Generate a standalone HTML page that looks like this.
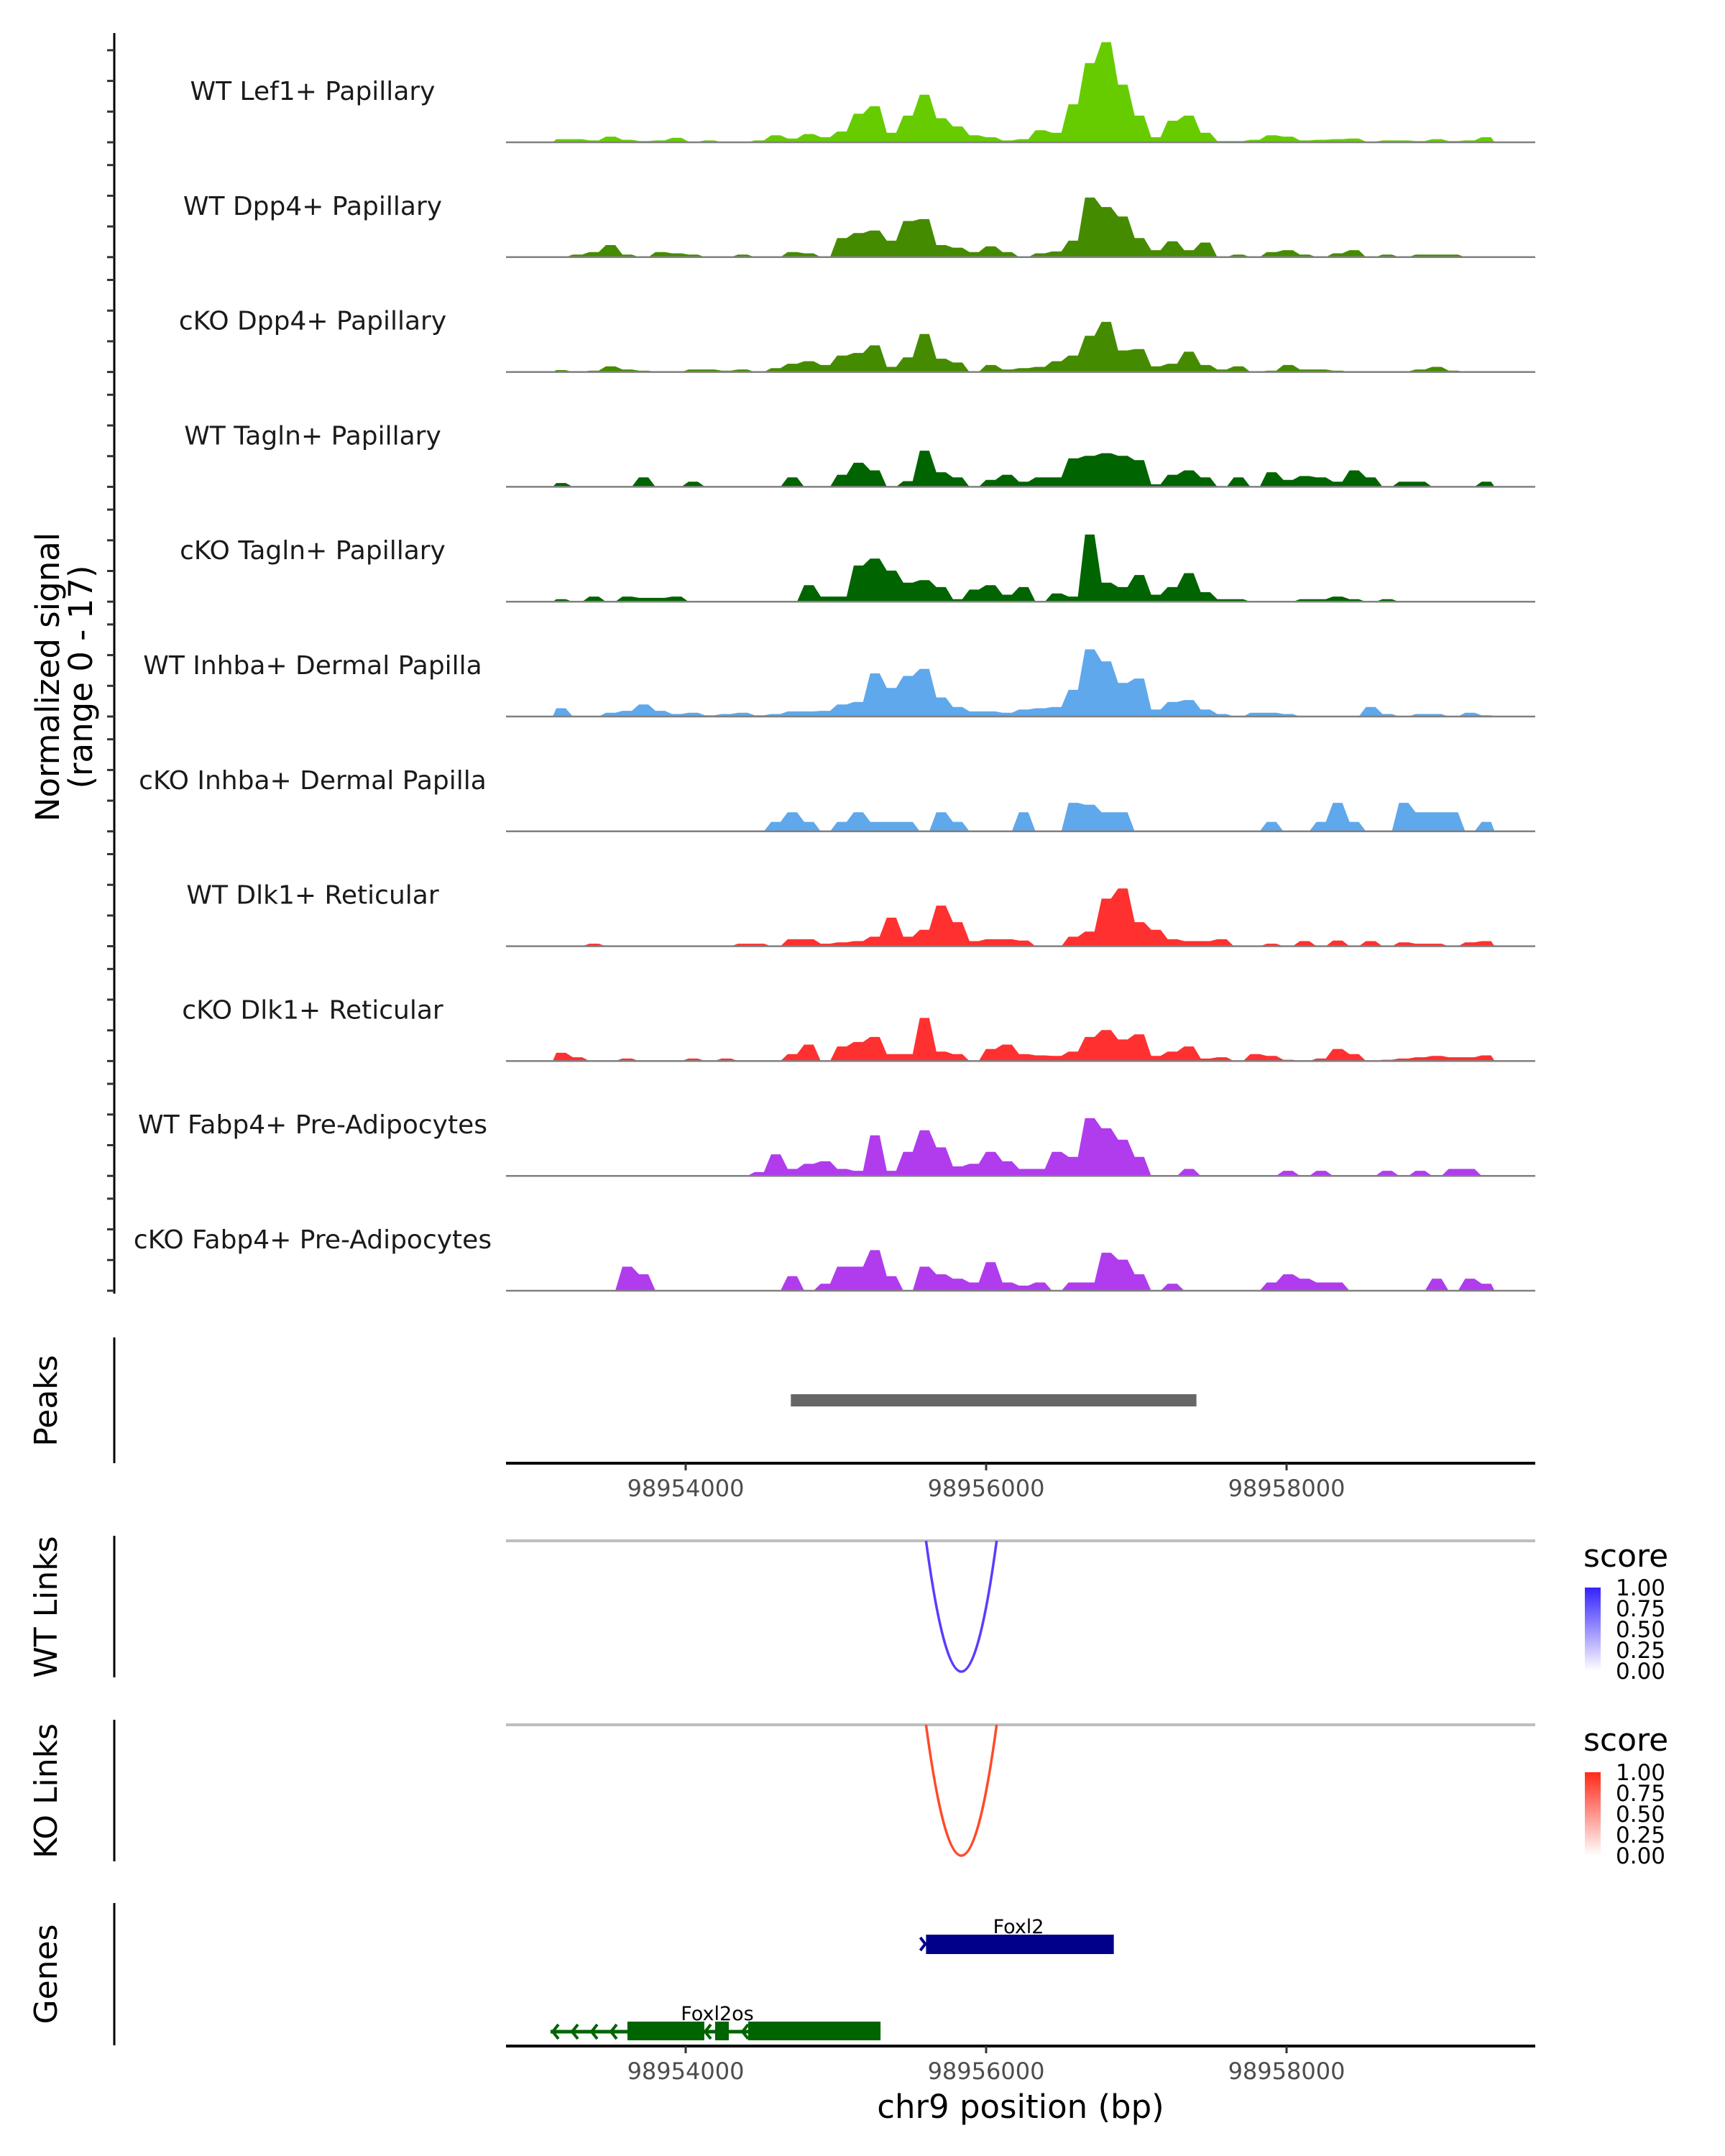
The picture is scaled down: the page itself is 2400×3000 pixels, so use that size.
<!DOCTYPE html>
<html><head><meta charset="utf-8"><style>
html,body{margin:0;padding:0;background:#fff;}
svg{display:block;font-family:"DejaVu Sans","Liberation Sans",sans-serif;}
</style></head><body>
<svg id="chart" width="2400" height="3000" viewBox="0 0 2400 3000" xmlns="http://www.w3.org/2000/svg">
<g id="tracks"></g>
<g id="yaxis">
<line x1="159" y1="46" x2="159" y2="1800" stroke="#000" stroke-width="3"/>
</g>
<text transform="translate(82,942) rotate(-90)" text-anchor="middle" font-size="45" fill="#000">Normalized signal</text>
<text transform="translate(128,942) rotate(-90)" text-anchor="middle" font-size="45" fill="#000">(range 0 - 17)</text>

<g>
<line x1="159" y1="1861" x2="159" y2="2036" stroke="#000" stroke-width="3"/>
<text transform="translate(79,1949) rotate(-90)" text-anchor="middle" font-size="44">Peaks</text>
<rect id="peakbar" x="0" y="1940" width="0" height="17" fill="#666"/>
<line x1="704" y1="2036" x2="2136" y2="2036" stroke="#000" stroke-width="4"/>
<g id="ticks1"></g>
</g>

<g>
<line x1="159" y1="2137" x2="159" y2="2334" stroke="#000" stroke-width="3"/>
<text transform="translate(79,2236) rotate(-90)" text-anchor="middle" font-size="44">WT Links</text>
<line x1="704" y1="2144" x2="2136" y2="2144" stroke="#bebebe" stroke-width="4"/>
<path id="arcWT" fill="none" stroke="#5a3cff" stroke-width="3.5"/>
<text x="2203" y="2180" font-size="44">score</text>
<defs>
<linearGradient id="gWT" x1="0" y1="1" x2="0" y2="0"><stop offset="0" stop-color="#fff"/><stop offset="1" stop-color="#3322ff"/></linearGradient>
<linearGradient id="gKO" x1="0" y1="1" x2="0" y2="0"><stop offset="0" stop-color="#fff"/><stop offset="1" stop-color="#ff2a1a"/></linearGradient>
</defs>
<rect x="2205" y="2209" width="22" height="116" fill="url(#gWT)"/>
<g font-size="31" fill="#000">
<text x="2248" y="2220">1.00</text><text x="2248" y="2249">0.75</text><text x="2248" y="2278">0.50</text><text x="2248" y="2307">0.25</text><text x="2248" y="2336">0.00</text>
</g>
</g>

<g>
<line x1="159" y1="2393" x2="159" y2="2590" stroke="#000" stroke-width="3"/>
<text transform="translate(79,2492) rotate(-90)" text-anchor="middle" font-size="44">KO Links</text>
<line x1="704" y1="2400" x2="2136" y2="2400" stroke="#bebebe" stroke-width="4"/>
<path id="arcKO" fill="none" stroke="#ff4a2a" stroke-width="3.5"/>
<text x="2203" y="2436" font-size="44">score</text>
<rect x="2205" y="2466" width="22" height="116" fill="url(#gKO)"/>
<g font-size="31" fill="#000">
<text x="2248" y="2477">1.00</text><text x="2248" y="2506">0.75</text><text x="2248" y="2535">0.50</text><text x="2248" y="2564">0.25</text><text x="2248" y="2593">0.00</text>
</g>
</g>

<g>
<line x1="159" y1="2648" x2="159" y2="2846" stroke="#000" stroke-width="3"/>
<text transform="translate(79,2747) rotate(-90)" text-anchor="middle" font-size="44">Genes</text>
<g id="genes"></g>
<line x1="704" y1="2847" x2="2136" y2="2847" stroke="#000" stroke-width="4"/>
<g id="ticks2"></g>
<text x="1420" y="2947" text-anchor="middle" font-size="45">chr9 position (bp)</text>
</g>
</svg>
<script>
const trackNames = ["WT Lef1+ Papillary","WT Dpp4+ Papillary","cKO Dpp4+ Papillary","WT Tagln+ Papillary","cKO Tagln+ Papillary","WT Inhba+ Dermal Papilla","cKO Inhba+ Dermal Papilla","WT Dlk1+ Reticular","cKO Dlk1+ Reticular","WT Fabp4+ Pre-Adipocytes","cKO Fabp4+ Pre-Adipocytes"];
const trackColors = ["#66cc00","#458b00","#458b00","#006400","#006400","#5fa8eb","#5fa8eb","#ff3030","#ff3030","#b03cee","#b03cee"];
const binStart = 98953115;
const binSize = 110;
const wtLef1 = [0.5,0.5,0.3,0.9,0.4,0.2,0.3,0.7,0.1,0.3,0,0,0.3,1.1,0.6,1.3,0.8,1.7,4.5,5.7,1.5,4.2,7.5,3.8,2.5,1.1,0.8,0.3,0.5,1.9,1.5,6.0,12.5,15.8,9.1,4.2,0.8,3.4,4.2,1.5,0.2,0.2,0.4,1.1,0.9,0.3,0.4,0.5,0.6,0.1,0.3,0.3,0.2,0.5,0.2,0.3,0.8];
const wtDpp4 = [0,0.4,0.8,1.9,0.4,0,0.8,0.6,0.4,0,0,0.4,0,0,0.8,0.6,0,3.0,3.8,4.2,2.6,5.7,6.0,1.9,1.5,0.8,1.7,0.8,0,0.6,0.9,2.6,9.4,7.9,6.4,3.0,1.1,2.5,1.1,2.3,0,0.4,0,0.8,1.1,0.4,0,0.6,1.1,0,0.4,0,0.4,0.4,0.4,0,0];
const koDpp4 = [0.3,0,0.2,0.9,0.4,0.2,0,0,0.4,0.4,0.2,0.4,0,0.6,1.3,1.7,1.1,2.6,3.0,4.2,0.8,2.3,6.0,2.1,1.5,0,1.1,0.4,0.6,0.8,1.7,2.6,5.7,7.9,3.4,3.6,0.9,1.3,3.2,1.1,0.4,0.9,0,0.2,1.1,0.4,0.4,0.2,0,0,0,0.1,0.4,0.8,0.2,0,0];
const wtTagln = [0.6,0,0,0,0,1.5,0,0,0.8,0,0,0,0,0,1.5,0,0,1.9,3.8,2.6,0,0.9,5.7,2.3,1.5,0,1.1,1.9,0.8,1.5,1.5,4.5,4.9,5.3,4.9,4.2,0.4,1.9,2.6,1.5,0,1.5,0,2.3,1.1,1.7,1.5,0.8,2.6,1.5,0,0.8,0.8,0,0,0,0.8];
const koTagln = [0.4,0,0.8,0,0.8,0.6,0.6,0.8,0,0,0,0,0,0,0,2.6,0.8,0.8,5.7,6.8,4.9,3.0,3.4,2.3,0.4,1.9,2.6,1.1,2.3,0,1.3,0.8,10.6,3.0,2.3,4.2,1.1,2.3,4.5,1.5,0.4,0.4,0,0,0,0.4,0.4,0.8,0.4,0,0.4,0,0,0,0,0,0];
const wtInhba = [1.3,0,0,0.6,0.9,1.9,0.9,0.4,0.6,0.2,0.4,0.6,0.2,0.4,0.8,0.8,0.9,1.9,2.3,6.8,4.5,6.4,7.5,3.0,1.5,0.8,0.8,0.6,1.1,1.3,1.5,4.2,10.6,8.7,5.3,6.0,1.1,2.3,2.6,1.1,0.4,0,0.6,0.6,0.4,0,0,0,0,1.5,0.4,0,0.4,0.4,0,0.6,0.2];
const koInhba = [0,0,0,0,0,0,0,0,0,0,0,0,0,1.5,3.0,1.5,0,1.5,3.0,1.5,1.5,1.5,0,3.0,1.5,0,0,0,3.0,0,0,4.5,4.2,3.0,3.0,0,0,0,0,0,0,0,0,1.5,0,0,1.5,4.5,1.5,0,0,4.5,3.0,3.0,3.0,0,1.5];
const wtDlk1 = [0,0,0.4,0,0,0,0,0,0,0,0,0.4,0.4,0,1.1,1.1,0.4,0.6,0.8,1.5,4.5,1.5,2.6,6.4,3.8,0.8,1.1,1.1,0.9,0,0,1.5,2.3,7.5,9.1,3.8,2.6,1.1,0.8,0.8,1.1,0,0,0.4,0,0.8,0,0.9,0,0.8,0,0.6,0.4,0.4,0,0.6,0.8];
const koDlk1 = [1.3,0.6,0,0,0.4,0,0,0,0.4,0,0.4,0,0,0,1.1,2.6,0,2.3,3.0,3.8,1.1,1.1,6.8,1.5,1.1,0,1.9,2.6,1.1,0.9,0.8,1.5,3.8,4.9,3.4,4.2,0.8,1.5,2.3,0.4,0.6,0,1.1,0.8,0.2,0,0.4,1.9,1.1,0,0.2,0.4,0.6,0.8,0.6,0.6,0.9];
const wtFabp4 = [0,0,0,0,0,0,0,0,0,0,0,0,0.6,3.4,1.1,1.9,2.3,1.1,0.8,6.4,0.8,3.8,7.2,4.5,1.5,1.9,3.8,2.3,1.1,1.1,3.8,3.0,9.1,7.5,5.7,3.0,0,0,1.1,0,0,0,0,0,0.8,0,0.8,0,0,0,0.8,0,0.8,0,1.1,1.1,0];
const koFabp4 = [0,0,0,0,3.8,2.6,0,0,0,0,0,0,0,0,2.3,0,1.1,3.8,3.8,6.4,2.3,0,3.8,2.6,1.9,1.3,4.5,1.3,0.8,1.3,0,1.3,1.3,6.0,4.9,2.6,0,1.1,0,0,0,0,0,1.3,2.6,1.9,1.3,1.3,0,0,0,0,0,1.9,0,1.9,1.1];
const trackValues = [wtLef1,wtDpp4,koDpp4,wtTagln,koTagln,wtInhba,koInhba,wtDlk1,koDlk1,wtFabp4,koFabp4];
const xTicks = [98954000,98956000,98958000];
const peakRegion = [98954700,98957400];
const wtLink = [98955600,98956070];
const koLink = [98955600,98956070];
const foxl2 = [98955600,98956850];
const foxl2osLine = [98953100,98955297];
const foxl2osExons = [[98953612,98954124],[98954196,98954287],[98954416,98955297]];

const NS = "http://www.w3.org/2000/svg";
function xs(bp){ return 954 + (bp - 98954000) * 0.209; }
const yMax = 17, trackH = 150;
function ys(v, base){ return base - v / yMax * trackH; }
function mk(tag, attrs, parent){ const e = document.createElementNS(NS, tag); for (const k in attrs) e.setAttribute(k, attrs[k]); parent.appendChild(e); return e; }

const tracksG = document.getElementById('tracks');
const yaxisG = document.getElementById('yaxis');
trackNames.forEach((name, t) => {
  const base = 198 + t * 159.8;
  const vals = trackValues[t];
  const g = mk('g', {}, tracksG);
  
  
  let d = 'M' + xs(binStart).toFixed(1) + ',' + base;
  vals.forEach((v, i) => {
    const x0 = xs(binStart + i * binSize), x1 = xs(binStart + (i + 1) * binSize);
    const y = ys(v, base).toFixed(1);
    d += ' L' + (x0 + 5).toFixed(1) + ',' + y + ' L' + (x1 - 5).toFixed(1) + ',' + y;
  });
  d += ' L' + xs(binStart + vals.length * binSize).toFixed(1) + ',' + base + ' Z';
  const area = mk('path', {d: d, fill: trackColors[t]}, g);
  
  
  const bl = mk('line', {x1: 704, x2: 2136, y1: base, y2: base, stroke: '#808080', 'stroke-width': 2.5}, g);
  
  
  const lab = mk('text', {x: 435, y: base - 59, 'text-anchor': 'middle', 'font-size': 36, fill: '#1a1a1a'}, g);
  lab.textContent = name;
  
  
  for (let k = 0; k < 4; k++) {
    const ty = base - k * 42.7;
    const tk = mk('line', {x1: 149, x2: 159, y1: ty, y2: ty, stroke: '#333', 'stroke-width': 3}, yaxisG);
    
    
  }
});

const pb = document.getElementById('peakbar');
pb.setAttribute('x', xs(peakRegion[0]));
pb.setAttribute('width', xs(peakRegion[1]) - xs(peakRegion[0]));

[['ticks1', 2036], ['ticks2', 2847]].forEach(([id, y]) => {
  const g = document.getElementById(id);
  xTicks.forEach(v => {
    const tk = mk('line', {x1: xs(v), x2: xs(v), y1: y, y2: y + 10, stroke: '#333', 'stroke-width': 3}, g);
    
    
    const tl = mk('text', {x: xs(v), y: y + 46, 'text-anchor': 'middle', 'font-size': 32, fill: '#4d4d4d'}, g);
    tl.textContent = v;
    
    
  });
});

function arc(id, link, top, bottom){
  const a = xs(link[0]), b = xs(link[1]), m = (a + b) / 2;
  document.getElementById(id).setAttribute('d', 'M' + a + ',' + top + ' Q' + m + ',' + (2 * bottom - top) + ' ' + b + ',' + top);
}
arc('arcWT', wtLink, 2144, 2326);
arc('arcKO', koLink, 2400, 2582);

const gg = document.getElementById('genes');
const f2 = mk('rect', {x: xs(foxl2[0]), y: 2692, width: xs(foxl2[1]) - xs(foxl2[0]), height: 27, fill: '#00008b'}, gg);


const f2a = mk('path', {d: 'M' + (xs(foxl2[0]) - 8) + ',2696 L' + (xs(foxl2[0]) - 1) + ',2705 L' + (xs(foxl2[0]) - 8) + ',2714', fill: 'none', stroke: '#00008b', 'stroke-width': 4}, gg);


const f2l = mk('text', {x: (xs(foxl2[0]) + xs(foxl2[1])) / 2 - 2, y: 2690, 'text-anchor': 'middle', 'font-size': 27}, gg);
f2l.textContent = 'Foxl2';


const osl = mk('line', {x1: xs(foxl2osLine[0]), x2: xs(foxl2osLine[1]), y1: 2827, y2: 2827, stroke: '#006400', 'stroke-width': 5}, gg);


foxl2osExons.forEach(e => {
  const r = mk('rect', {x: xs(e[0]), y: 2813, width: xs(e[1]) - xs(e[0]), height: 26, fill: '#006400'}, gg);
  
  
});
[769, 796, 823, 850, 981, 1033].forEach(x => {
  const c = mk('path', {d: 'M' + (x + 8) + ',2817 L' + x + ',2827 L' + (x + 8) + ',2837', fill: 'none', stroke: '#006400', 'stroke-width': 4}, gg);
  
  
});
const osLab = mk('text', {x: 998, y: 2811, 'text-anchor': 'middle', 'font-size': 27}, gg);
osLab.textContent = 'Foxl2os';


</script>
</body></html>
